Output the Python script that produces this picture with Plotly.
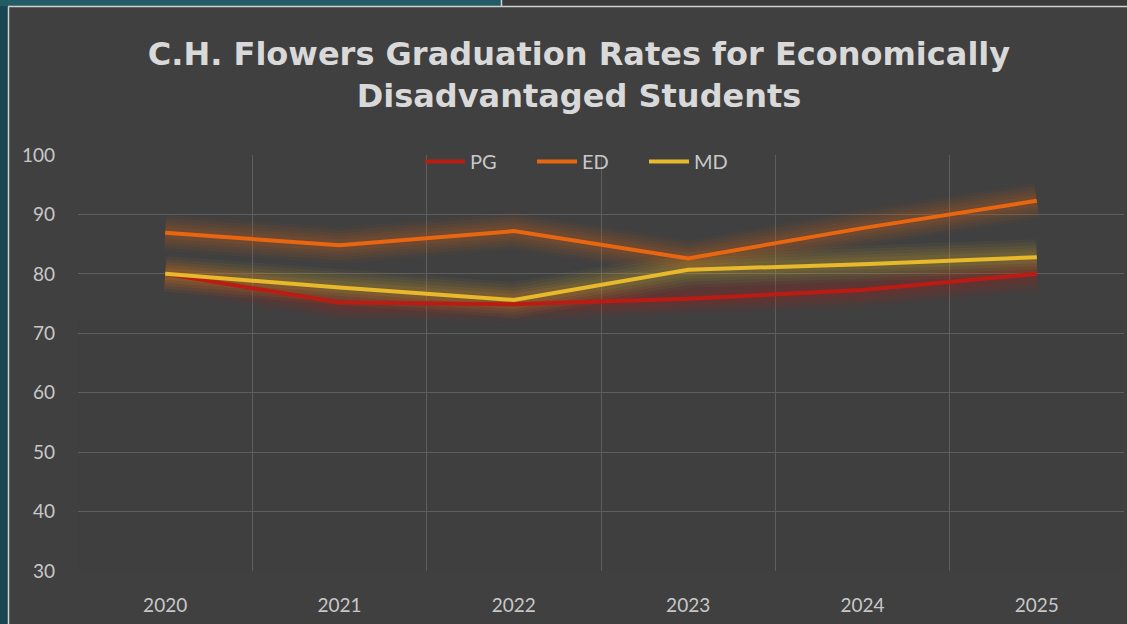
import plotly.graph_objects as go

years = ["2020", "2021", "2022", "2023", "2024", "2025"]
pg = [80.0, 75.2, 74.9, 75.8, 77.3, 80.0]
ed = [86.9, 84.8, 87.2, 82.6, 87.7, 92.3]
md = [80.0, 77.7, 75.6, 80.7, 81.6, 82.8]
y_ticks = [30, 40, 50, 60, 70, 80, 90, 100]

series = [("PG", pg, "#BA1C14"), ("ED", ed, "#E8660F"), ("MD", md, "#E8B92A")]

W, H = 1127, 624
ml, mr, mt, mb = 78, 3, 155, 53
pw, ph = W - ml - mr, H - mt - mb


def px(x):
    return (x - ml) / pw


def py(y):
    return (H - mb - y) / ph


fig = go.Figure()

# glow layers
for name, vals, col in series:
    for w, op in [(36, 0.04), (30, 0.05), (24, 0.06), (18, 0.07), (12, 0.08)]:
        fig.add_trace(go.Scatter(x=years, y=vals, mode="lines",
                                 line=dict(color=col, width=w),
                                 opacity=op, showlegend=False, hoverinfo="skip"))

for name, vals, col in series:
    fig.add_trace(go.Scatter(x=years, y=vals, mode="lines", name=name,
                             line=dict(color=col, width=4)))

shapes = []
# fading of gridlines toward the bottom
for top in [72, 66, 60, 54, 48, 42, 36]:
    shapes.append(dict(type="rect", xref="paper", yref="y", x0=0, x1=1, y0=29, y1=top,
                       fillcolor="#404040", opacity=0.3, line=dict(width=0),
                       layer="between"))
# slide background strips
shapes.append(dict(type="rect", xref="paper", yref="paper", x0=px(0), x1=px(8),
                   y0=py(H), y1=py(0), fillcolor="#1A4553", line=dict(width=0), layer="below"))
shapes.append(dict(type="rect", xref="paper", yref="paper", x0=px(0), x1=px(501),
                   y0=py(6), y1=py(0), fillcolor="#235C66", line=dict(width=0), layer="below"))
shapes.append(dict(type="rect", xref="paper", yref="paper", x0=px(501), x1=px(W),
                   y0=py(6), y1=py(0), fillcolor="#3A3A3A", line=dict(width=0), layer="below"))
# chart border
shapes.append(dict(type="line", xref="paper", yref="paper", x0=px(8), x1=px(W),
                   y0=py(6.5), y1=py(6.5), line=dict(color="#D0D0D0", width=1.5), layer="below"))
shapes.append(dict(type="line", xref="paper", yref="paper", x0=px(8.5), x1=px(8.5),
                   y0=py(6.5), y1=py(H), line=dict(color="#D0D0D0", width=1.5), layer="below"))
shapes.append(dict(type="line", xref="paper", yref="paper", x0=px(501.5), x1=px(501.5),
                   y0=py(0), y1=py(6.5), line=dict(color="#D0D0D0", width=1.5), layer="below"))

fig.update_layout(
    width=W, height=H,
    margin=dict(l=ml, r=mr, t=mt, b=mb, pad=0),
    paper_bgcolor="#404040", plot_bgcolor="#404040",
    title=dict(text="C.H. Flowers Graduation Rates for Economically<br>Disadvantaged Students",
               x=579 / W, xref="container", xanchor="center",
               y=1 - 65 / H, yref="container", yanchor="middle",
               font=dict(family="DejaVu Sans", size=32, color="#D9D9D9", weight="bold")),
    font=dict(family="Lato", color="#C8C8C8"),
    legend=dict(orientation="h", x=px(588), xanchor="center", y=py(142), yanchor="top",
                bgcolor="rgba(0,0,0,0)", font=dict(size=20, color="#C8C8C8"),
                itemwidth=40, entrywidth=57, tracegroupgap=0),
    shapes=shapes,
    showlegend=True,
)
fig.update_xaxes(type="category", tickson="boundaries", showgrid=True,
                 gridcolor="#5E5E5E", gridwidth=1, ticks="", showline=False, zeroline=False,
                 tickfont=dict(size=19, color="#C8C8C8"), ticklabelstandoff=21,
                 range=[-0.5, 5.5])
fig.update_yaxes(range=[30, 100], tickvals=y_ticks, showgrid=True, gridcolor="#5E5E5E",
                 gridwidth=1, ticks="", showline=False, zeroline=False,
                 tickfont=dict(size=19, color="#C8C8C8"), ticklabelstandoff=22)

fig.write_html("out.html", config={"displayModeBar": False},
               post_script="document.body.style.margin='0';document.body.style.overflow='hidden';")
